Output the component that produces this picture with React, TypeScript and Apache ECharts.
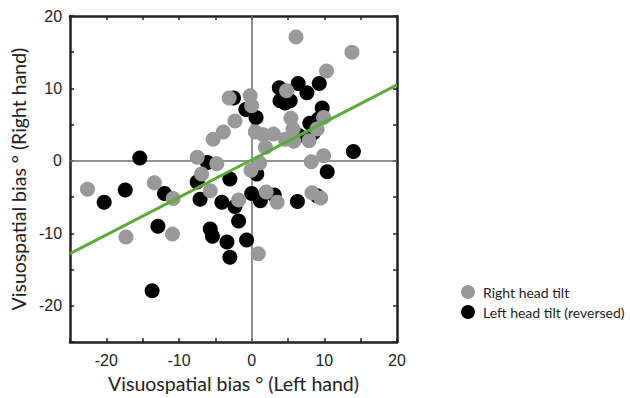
import React, { useEffect, useRef } from "react";
import * as echarts from "echarts";

const rightTiltX = [6.1, 13.8, 10.3, 4.8, -3.1, -0.2, 0.0, -2.3, -3.9, -5.3, 0.5, 1.6, 3.0, 4.6, 5.8, 5.4, 5.7, 7.9, 9.9, 9.0, 1.9, 9.9, 8.2, -7.5, -4.8, -6.9, 1.1, -0.1, -5.7, -1.8, 2.0, 3.5, 8.3, 9.5, -22.6, -13.4, -10.8, -17.3, -10.9, 0.9];
const rightTiltY = [17.1, 15.0, 12.4, 9.7, 8.7, 9.0, 7.6, 5.5, 4.0, 3.0, 4.0, 3.6, 3.7, 3.0, 2.7, 5.9, 4.4, 2.8, 6.0, 4.4, 1.9, 0.7, -0.1, 0.5, -0.4, -1.8, -0.3, -1.3, -4.1, -5.4, -4.3, -5.7, -4.4, -5.1, -3.9, -3.0, -5.2, -10.5, -10.1, -12.8];

const leftTiltX = [3.8, 6.4, 7.6, 9.3, 3.9, 5.3, 4.6, 9.7, 9.2, 8.0, 8.5, 6.5, 14.0, -2.5, -0.8, 0.6, -15.4, -6.1, 10.4, 0.7, -7.5, -3.0, -7.1, -4.1, -2.3, 0.0, 1.2, 3.1, 6.3, 9.0, -1.8, -5.7, -5.4, -3.4, -0.7, -3.0, -20.3, -17.4, -12.0, -12.9, -13.7];
const leftTiltY = [10.1, 10.7, 9.4, 10.7, 8.3, 8.3, 8.0, 7.3, 5.8, 5.2, 3.9, 3.5, 1.3, 8.7, 7.1, 6.0, 0.4, -0.2, -1.5, -1.8, -2.9, -2.5, -5.3, -5.7, -6.3, -4.5, -5.5, -4.7, -5.6, -4.8, -8.3, -9.4, -10.4, -11.2, -10.9, -13.3, -5.7, -4.0, -4.5, -9.0, -17.9];

const fitX = [-25, 20];
const fitY = [-12.8, 10.5];

const ticks = [-20, -10, 0, 10, 20];
const seriesNames = ["Right head tilt", "Left head tilt (reversed)"];
const xTitle = "Visuospatial bias \u00b0 (Left hand)";
const yTitle = "Visuospatial bias \u00b0 (Right hand)";

const zip = (a: number[], b: number[]) => a.map((v, i) => [v, b[i]]);

export default function App() {
  const ref = useRef<HTMLDivElement>(null);
  useEffect(() => {
    if (!ref.current) return;
    const chart = echarts.init(ref.current, null, { renderer: "svg" });
    const labelFont = { fontFamily: "Liberation Sans", fontSize: 16, color: "#222" };
    const line = { show: true, onZero: false, lineStyle: { color: "#222", width: 2.5 } };
    const tick = { show: true, inside: true, length: 4, lineStyle: { color: "#222", width: 1.5 } };
    chart.setOption({
      animation: false,
      grid: { left: 70, right: 233, top: 16, bottom: 55 },
      legend: {
        data: seriesNames,
        orient: "vertical",
        left: 461,
        top: 285,
        itemGap: 6,
        itemWidth: 20,
        itemHeight: 14,
        icon: "circle",
        padding: 0,
        textStyle: { fontFamily: "Lato", fontSize: 14, color: "#222" },
      },
      xAxis: [
        {
          type: "value", min: -25, max: 20, interval: 5, position: "bottom",
          axisLine: line, axisTick: { ...tick, interval: 0 },
          axisLabel: { ...labelFont, margin: 10, formatter: (v: number) => (ticks.includes(v) ? String(v) : "") },
          splitLine: { show: false },
          name: xTitle, nameLocation: "middle", nameGap: 26,
          nameTextStyle: { fontFamily: "Lato", fontSize: 19.5, color: "#222" },
        },
        {
          type: "value", min: -25, max: 20, interval: 5, position: "top",
          axisLine: line, axisTick: tick, axisLabel: { show: false }, splitLine: { show: false },
        },
      ],
      yAxis: [
        {
          type: "value", min: -25, max: 20, interval: 5, position: "left",
          axisLine: line, axisTick: tick,
          axisLabel: { ...labelFont, margin: 8, formatter: (v: number) => (ticks.includes(v) ? String(v) : "") },
          splitLine: { show: false },
          name: yTitle, nameLocation: "middle", nameGap: 38,
          nameTextStyle: { fontFamily: "Lato", fontSize: 19.5, color: "#222" },
        },
        {
          type: "value", min: -25, max: 20, interval: 5, position: "right",
          axisLine: line, axisTick: tick, axisLabel: { show: false }, splitLine: { show: false },
        },
      ],
      series: [
        {
          name: seriesNames[1], type: "scatter", symbolSize: 15,
          itemStyle: { color: "#000000", opacity: 1 },
          data: zip(leftTiltX, leftTiltY), z: 3,
          markLine: {
            silent: true, symbol: "none", label: { show: false },
            lineStyle: { color: "#6e6e6e", width: 1.5, type: "solid" },
            data: [{ xAxis: 0 }, { yAxis: 0 }], z: 1,
          },
        },
        {
          name: seriesNames[0], type: "scatter", symbolSize: 15,
          itemStyle: { color: "#999999", opacity: 1 },
          data: zip(rightTiltX, rightTiltY), z: 4,
        },
        {
          type: "line", data: zip(fitX, fitY), symbol: "none", z: 5,
          lineStyle: { color: "#5cab3a", width: 3 },
        },
      ],
    });
    return () => chart.dispose();
  }, []);
  return <div ref={ref} style={{ width: 630, height: 398, position: "absolute", left: 0, top: 0 }} />;
}
